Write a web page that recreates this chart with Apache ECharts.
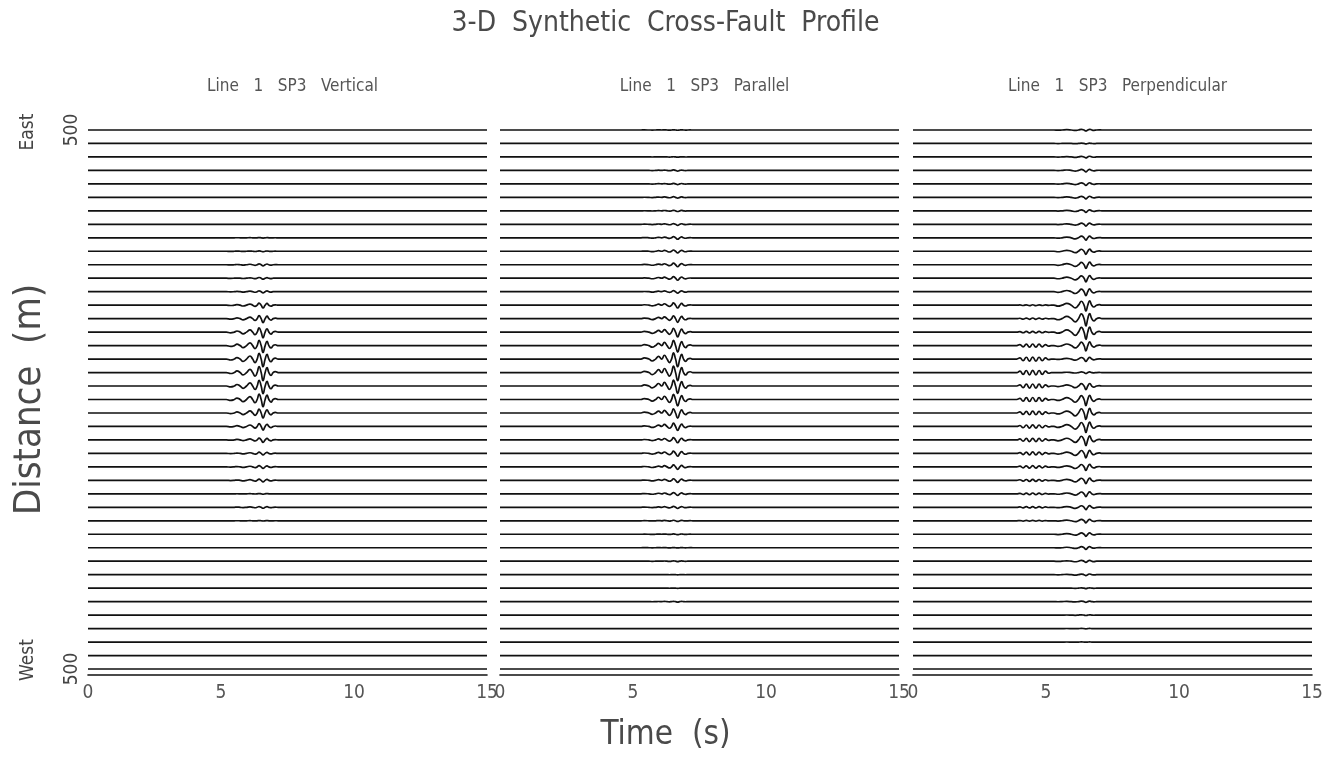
<!DOCTYPE html>
<html><head><meta charset="utf-8">
<script src="https://cdn.jsdelivr.net/npm/echarts@6/dist/echarts.min.js"></script>
<style>html,body{margin:0;padding:0;background:#fff}#c{width:1331px;height:757px}</style>
</head><body><div id="c"></div>
<script>
// ---------- data ----------
const titleText = '3-D  Synthetic  Cross-Fault  Profile';
const panelTitles = ['Line   1   SP3   Vertical', 'Line   1   SP3   Parallel', 'Line   1   SP3   Perpendicular'];
const xAxisName = 'Time  (s)';
const yAxisName = 'Distance  (m)';
const edgeLabels = ['East', 'West'];
const timeTicks = [0, 5, 10, 15];
const distTicks = [500, -500];
const distTickLabels = ['500', '500'];
// trace positions (m), East 500 at top to West 500 at bottom
const distances = [500,475,450,425,400,375,350,325,300,275,250,225,200,175,150,125,100,75,50,25,0,
  -25,-50,-75,-100,-125,-150,-175,-200,-225,-250,-275,-300,-325,-350,-375,-400,-425,-450,-475,-500];
// relative wavelet amplitude of each trace
const vertAmp = [0,0,0,0,0,0,0,0,0.03,0.06,0.15,0.12,0.15,0.35,0.5,0.7,0.85,0.95,1.0,0.95,0.9,
  0.65,0.45,0.3,0.2,0.2,0.2,0.05,0.12,0.03,0,0,0,0,0,0,0,0,0,0,0];
const paraAmp = [0.03,0,0.03,0.08,0.08,0.1,0.08,0.12,0.18,0.2,0.25,0.25,0.18,0.35,0.45,0.6,0.8,0.95,1.0,0.9,0.8,
  0.65,0.5,0.35,0.35,0.3,0.25,0.2,0.15,0.08,0.05,0.03,0.05,0.02,0.02,0.05,0,0,0,0,0];
const perpAmp = [0.12,0.05,0.12,0.18,0.2,0.2,0.18,0.22,0.3,0.38,0.45,0.45,0.5,0.75,0.9,0.9,0.65,0.3,0.12,0.45,0.75,
  0.8,0.75,0.7,0.55,0.45,0.4,0.35,0.3,0.25,0.25,0.2,0.15,0.12,0.05,0.08,0.05,0.03,0.02,0,0];
const perpEarlyAmp = [0,0,0,0,0,0,0,0,0,0,0,0,0,0.05,0.08,0.1,0.2,0.25,0.28,0.25,0.25,
  0.22,0.2,0.2,0.18,0.15,0.12,0.1,0.08,0.05,0,0,0,0,0,0,0,0,0,0,0];
// wavelet shapes (time s, relative deflection)
const vertWaveT = [5.0,5.2,5.36,5.5,5.6,5.72,5.83,5.96,6.09,6.19,6.28,6.36,6.43,6.51,6.58,6.66,6.73,6.8,6.88,6.96,7.04,7.15];
const vertWaveV = [0,0,-0.12,0,0.2,0,-0.3,0,0.4,0,-0.45,0,0.75,0,-1.0,0,0.6,0,-0.35,0,0.12,0];
const paraWaveT = [5.1,5.3,5.42,5.6,5.72,5.85,5.96,6.08,6.18,6.28,6.37,6.45,6.52,6.6,6.68,6.76,6.83,6.9,6.98,7.06,7.15,7.25];
const paraWaveV = [0,0,0.15,0,-0.25,0,0.35,0,0.5,0,-0.45,0,0.8,0,-1.0,0,0.6,0,-0.3,0,0.1,0];
const perpWaveT = [5.3,5.45,5.6,5.78,5.95,6.1,6.22,6.33,6.43,6.5,6.57,6.64,6.72,6.8,6.9,7.0,7.1];
const perpWaveV = [0,-0.15,0,0.3,0,-0.45,0,0.65,0,-1.0,0,0.7,0,-0.3,0,0.1,0];
const perpEarlyT = [3.9,4.02,4.14,4.26,4.38,4.5,4.62,4.74,4.86,4.98,5.1,5.2];
const perpEarlyV = [0,0.6,-0.8,0.9,-1,1,-1,0.9,-0.8,0.6,-0.3,0];
const ampMeters = 15; // deflection in metres for relative amplitude 1

// ---------- chart ----------
const FONT = "'Liberation Sans Narrow', 'DejaVu Sans Condensed', sans-serif";
const TXT = '#4a4a4a';
const gridLefts = [88, 500, 913];
const gridW = 399;
const panels = [
  {amp: vertAmp, t: vertWaveT, v: vertWaveV},
  {amp: paraAmp, t: paraWaveT, v: paraWaveV},
  {amp: perpAmp, t: perpWaveT, v: perpWaveV, eAmp: perpEarlyAmp, eT: perpEarlyT, eV: perpEarlyV}
];

const grids = [], xAxes = [], yAxes = [], series = [];
panels.forEach((p, pi) => {
  grids.push({left: gridLefts[pi], width: gridW, top: 124.6, height: 549.8,
    containLabel: false, outerBoundsMode: 'none'});
  xAxes.push({
    type: 'value', gridIndex: pi, min: 0, max: 15, interval: 5,
    axisLine: {show: true, onZero: false, lineStyle: {color: '#111', width: 1.6}},
    axisTick: {show: false}, splitLine: {show: false},
    axisLabel: {fontSize: 19, color: '#555', fontFamily: FONT, margin: 9, customValues: timeTicks}
  });
  yAxes.push({
    type: 'value', gridIndex: pi, min: -510, max: 510,
    axisLine: {show: false}, axisTick: {show: false}, splitLine: {show: false},
    axisLabel: {show: pi === 0, customValues: distTicks, rotate: 90, fontSize: 19, color: '#444',
      fontFamily: FONT, margin: 6,
      formatter: (val) => distTickLabels[distTicks.indexOf(val)] || ''},
    name: pi === 0 ? yAxisName : '', nameLocation: 'middle', nameGap: 39, nameRotate: 90,
    nameTextStyle: {fontSize: 38, color: TXT, fontFamily: FONT}
  });
  distances.forEach((d, i) => {
    const pts = [[0, d]];
    if (p.eAmp && p.eAmp[i]) p.eT.forEach((t, k) => pts.push([t, d + p.eAmp[i] * ampMeters * p.eV[k]]));
    p.t.forEach((t, k) => pts.push([t, d + p.amp[i] * ampMeters * p.v[k]]));
    pts.push([15, d]);
    series.push({
      type: 'line', xAxisIndex: pi, yAxisIndex: pi, data: pts, smooth: 0.5,
      showSymbol: false, symbol: 'none', silent: true, clip: false,
      lineStyle: {color: '#111', width: 1.7}
    });
  });
});

const titles = [
  {text: titleText, left: 'center', top: 5,
    textStyle: {fontSize: 28, fontWeight: 'normal', color: TXT, fontFamily: FONT}},
  {text: xAxisName, left: 'center', top: 714,
    textStyle: {fontSize: 33, fontWeight: 'normal', color: TXT, fontFamily: FONT}}
];
panelTitles.forEach((t, pi) => titles.push({
  text: t, left: gridLefts[pi] + gridW / 2, textAlign: 'center', top: 73,
  textStyle: {fontSize: 17, fontWeight: 'normal', color: '#555', fontFamily: FONT}
}));

const chart = echarts.init(document.getElementById('c'), null, {renderer: 'canvas'});
chart.setOption({
  animation: false,
  backgroundColor: '#fff',
  title: titles,
  grid: grids, xAxis: xAxes, yAxis: yAxes, series: series,
  graphic: [
    {type: 'text', x: 28, y: 132, rotation: Math.PI / 2,
      style: {text: edgeLabels[0], fontSize: 19, fill: '#444', fontFamily: FONT, align: 'center', verticalAlign: 'middle'}},
    {type: 'text', x: 28, y: 660, rotation: Math.PI / 2,
      style: {text: edgeLabels[1], fontSize: 19, fill: '#444', fontFamily: FONT, align: 'center', verticalAlign: 'middle'}}
  ]
});
</script></body></html>
